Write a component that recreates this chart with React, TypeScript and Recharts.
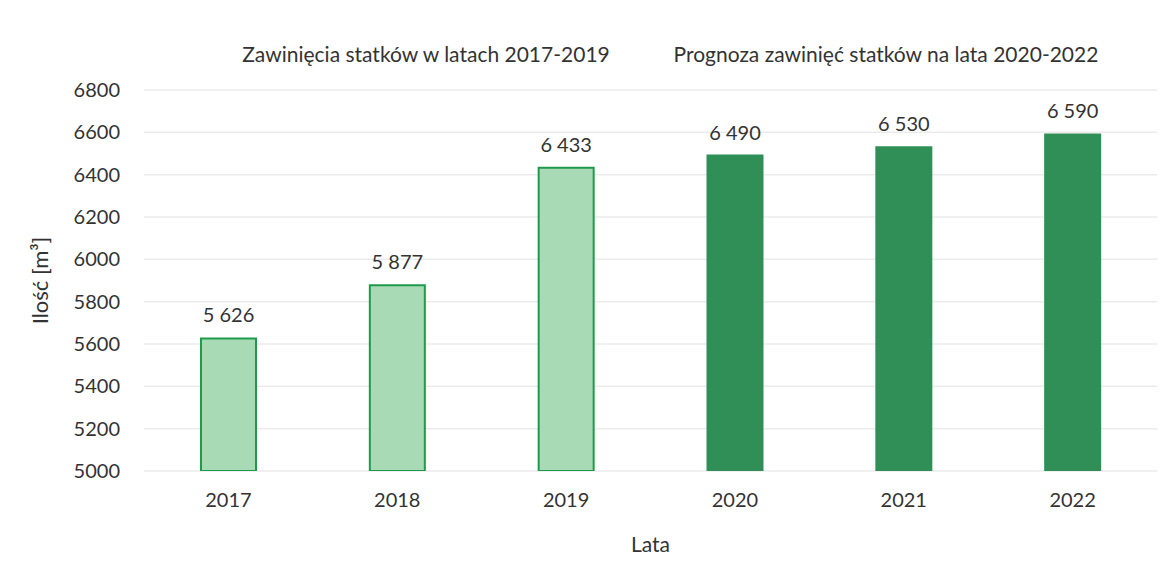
import React from 'react';
import { BarChart, Bar, XAxis, YAxis, CartesianGrid, Cell, LabelList, Label, Customized } from 'recharts';

const years = ['2017', '2018', '2019', '2020', '2021', '2022'];
const values = [5626, 5877, 6433, 6490, 6530, 6590];
const isForecast = [false, false, false, true, true, true];
const yTicks = [5000, 5200, 5400, 5600, 5800, 6000, 6200, 6400, 6600, 6800];
const titleHistory = 'Zawinięcia statków w latach 2017-2019';
const titleForecast = 'Prognoza zawinięć statków na lata 2020-2022';

const data = years.map((y, i) => ({ year: y, value: values[i], forecast: isForecast[i] }));

const FONT = 'Lato, "Open Sans", sans-serif';
const TEXT = '#333333';

const fmt = (v: any) => {
  const s = String(v);
  return s.length > 3 ? s.slice(0, s.length - 3) + ' ' + s.slice(-3) : s;
};

const Titles = () => (
  <g>
    <text x={426} y={62} textAnchor="middle" fontFamily={FONT} fontSize={21} fill={TEXT}>{titleHistory}</text>
    <text x={886} y={62} textAnchor="middle" fontFamily={FONT} fontSize={21} fill={TEXT}>{titleForecast}</text>
  </g>
);

export default function App() {
  return (
    <div style={{ position: 'absolute', left: 0, top: 0, background: '#fff' }}>
      <BarChart width={1170} height={582} data={data} margin={{ top: 90, right: 13, left: 0, bottom: 0 }}>
        <CartesianGrid horizontal vertical={false} stroke="#ebebeb" strokeWidth={1.5} />
        <XAxis
          dataKey="year"
          height={111}
          axisLine={false}
          tickLine={false}
          tickSize={0}
          tickMargin={22}
          tick={{ fontFamily: FONT, fontSize: 20, fill: TEXT }}
        >
          <Label value="Lata" position="insideBottom" offset={30} style={{ fontFamily: FONT, fontSize: 21, fill: TEXT }} />
        </XAxis>
        <YAxis
          width={144}
          domain={[5000, 6800]}
          ticks={yTicks}
          allowDataOverflow
          axisLine={false}
          tickLine={false}
          tickSize={0}
          tickMargin={24}
          tick={{ fontFamily: FONT, fontSize: 20, fill: TEXT }}
        >
          <Label value="Ilość [m³]" angle={-90} position="insideLeft" offset={40} style={{ fontFamily: FONT, fontSize: 22, fill: TEXT, textAnchor: 'middle' }} />
        </YAxis>
        <Bar dataKey="value" barSize={55} isAnimationActive={false}>
          {data.map((d, i) => (
            <Cell
              key={i}
              fill={d.forecast ? '#2f8f57' : '#a8dbb5'}
              stroke={d.forecast ? '#2f8f57' : '#1e9b4a'}
              strokeWidth={2}
            />
          ))}
          <LabelList dataKey="value" position="top" offset={16} formatter={fmt} style={{ fontFamily: FONT, fontSize: 20, fill: TEXT }} />
        </Bar>
        <Customized component={Titles} />
      </BarChart>
    </div>
  );
}
